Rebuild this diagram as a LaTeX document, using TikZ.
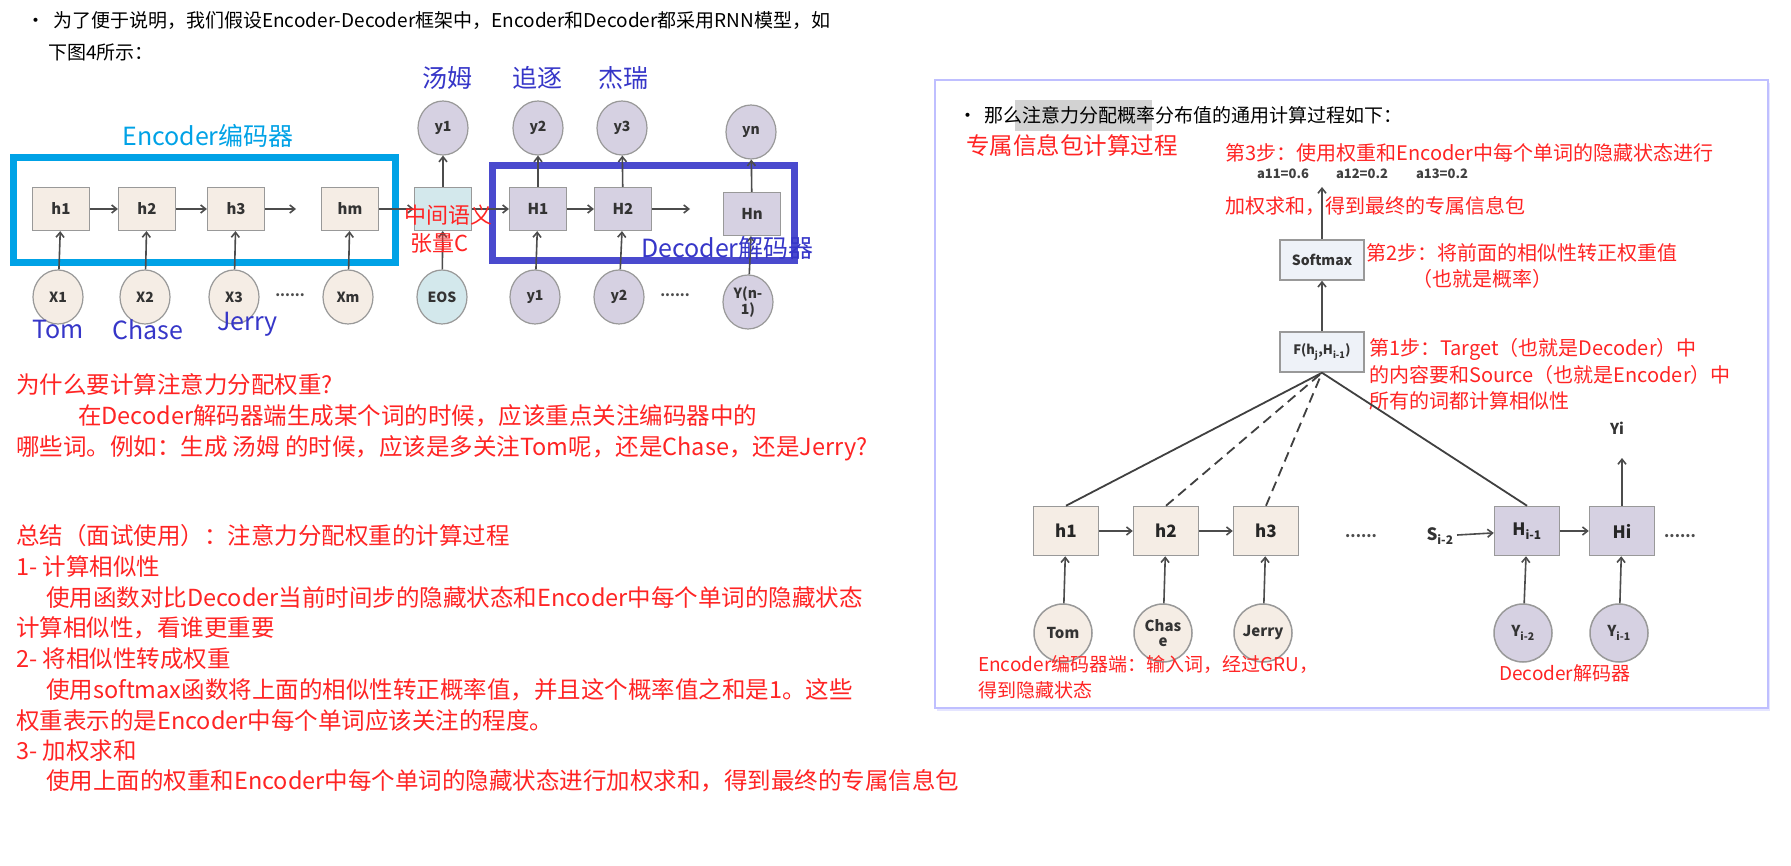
\documentclass[tikz,border=0pt]{standalone}
\usepackage{fontspec}
\setmainfont{Noto Sans CJK SC}
\usetikzlibrary{shapes.geometric,arrows.meta,shadows}
\definecolor{red1}{HTML}{FF2424}
\definecolor{blue1}{HTML}{3636C8}
\definecolor{cyan1}{HTML}{00A2E6}
\definecolor{encf}{HTML}{F5EDE5}
\definecolor{decf}{HTML}{D6D1E2}
\definecolor{cf}{HTML}{D3E8EC}
\definecolor{sf}{HTML}{EEF2F8}
\newcommand{\fs}[1]{\fontsize{#1}{#1}\selectfont}
\begin{document}
\begin{tikzpicture}[x=1pt,y=-1pt,
 txt/.style={anchor=west,inner sep=0pt},
 red/.style={txt,text=red1,font=\fs{23.5}},
 lbl/.style={text=blue1,font=\fs{25},inner sep=0pt},
 sq/.style={draw=gray!80,line width=1.2pt,minimum width=57pt,minimum height=43pt,inner sep=0pt,font=\fs{15}\bfseries,text=black!80},
 enc/.style={sq,fill=encf},
 dec/.style={sq,fill=decf},
 circ/.style={ellipse,draw=gray!80,line width=1.2pt,minimum width=50pt,minimum height=54pt,inner sep=0pt,font=\fs{14}\bfseries,text=black!80,align=center},
 sq2/.style={draw=gray!80,line width=1.5pt,minimum width=65pt,minimum height=49pt,inner sep=0pt,font=\fs{17}\bfseries,text=black!85},
 circ2/.style={ellipse,draw=gray!80,line width=1.5pt,minimum width=58pt,minimum height=58pt,inner sep=0pt,font=\fs{15}\bfseries,text=black!80,align=center},
 ar/.style={-{Straight Barb[length=5pt,width=8pt]},line width=1.6pt,draw=black!70},
 ln/.style={line width=1.8pt,draw=black!75}]
\useasboundingbox (0,0) rectangle (1791,866);
\fill[white] (0,0) rectangle (1791,866);
% top text
\node[txt,font=\fs{19}] (t1) at (26,21) {•\hspace{8pt}为了便于说明，我们假设Encoder-Decoder框架中，Encoder和Decoder都采用RNN模型，如};
\node[txt,font=\fs{19}] (t2) at (48,52) {下图4所示：};
% left diagram
\draw[cyan1,line width=7pt] (13.5,158) rectangle (395,263);
\draw[blue1!90,line width=7pt] (492,166) rectangle (794,261);
\node[enc] (h1) at (61,209) {h1};
\node[enc] (h2) at (147,209) {h2};
\node[enc] (h3) at (236,209) {h3};
\node[enc] (hm) at (350,209) {hm};
\node[sq,fill=cf] (C) at (443,209) {};
\node[dec] (H1) at (538,209) {H1};
\node[dec] (H2) at (623,209) {H2};
\node[dec] (Hn) at (752,214) {Hn};
\node[circ,fill=decf] (oy1) at (443,128) {y1};
\node[circ,fill=decf] (oy2) at (538,128) {y2};
\node[circ,fill=decf] (oy3) at (622,128) {y3};
\node[circ,fill=decf] (oyn) at (751,132) {yn};
\node[circ,fill=encf] (X1) at (58,297) {X1};
\node[circ,fill=encf] (X2) at (145,297) {X2};
\node[circ,fill=encf] (X3) at (234,297) {X3};
\node[circ,fill=encf] (Xm) at (348,297) {Xm};
\node[circ,fill=cf] (EOS) at (442,297) {EOS};
\node[circ,fill=decf] (iy1) at (535,297) {y1};
\node[circ,fill=decf] (iy2) at (619,297) {y2};
\node[circ,fill=decf] (iyn) at (748,302) {Y(n-\\1)};
\node[font=\fs{14}\bfseries,text=black!70] (d1) at (290,295) {......};
\node[font=\fs{14}\bfseries,text=black!70] (d2) at (675,295) {......};
\coordinate (e1) at (296,209);
\coordinate (e2) at (690,209);
\draw[ar] (h1)--(h2); \draw[ar] (h2)--(h3); \draw[ar] (h3)--(e1);
\draw[ar] (hm)--(C); \draw[ar] (C)--(H1); \draw[ar] (H1)--(H2); \draw[ar] (H2)--(e2);
\foreach \a/\b in {X1/h1,X2/h2,X3/h3,Xm/hm,EOS/C,iy1/H1,iy2/H2,iyn/Hn,C/oy1,H1/oy2,H2/oy3,Hn/oyn} \draw[ar] (\a)--(\b);
\node[lbl] (l1) at (447,78) {汤姆};
\node[lbl] (l2) at (537,78) {追逐};
\node[lbl] (l3) at (623,78) {杰瑞};
\node[inner sep=0pt,text=cyan1,font=\fs{25}] (enl) at (208,136) {Encoder编码器};
\node[txt,text=red1,font=\fs{22}] (mid1) at (404,215) {中间语义};
\node[txt,text=red1,font=\fs{22}] (mid2) at (410,243) {张量C};
\node[txt,text=blue1,font=\fs{25}] (decl) at (641,248) {Decoder解码器};
\node[txt,text=blue1,font=\fs{25}] (tom) at (32,330) {Tom};
\node[txt,text=blue1,font=\fs{25}] (chase) at (112,330) {Chase};
\node[txt,text=blue1,font=\fs{25}] (jerry) at (217,324) {Jerry};
% left red text
\node[red] (r1) at (16,385) {为什么要计算注意力分配权重?};
\node[red] (r2) at (78,416) {在Decoder解码器端生成某个词的时候，应该重点关注编码器中的};
\node[red] (r3) at (16,448) {哪些词。例如：生成 汤姆 的时候，应该是多关注Tom呢，还是Chase，还是Jerry?};
\node[red] (r4) at (16,536) {总结（面试使用）：注意力分配权重的计算过程};
\node[red] (r5) at (16,567) {1- 计算相似性};
\node[red] (r6) at (46,598) {使用函数对比Decoder当前时间步的隐藏状态和Encoder中每个单词的隐藏状态};
\node[red] (r7) at (16,628) {计算相似性，看谁更重要};
\node[red] (r8) at (16,659) {2- 将相似性转成权重};
\node[red] (r9) at (46,690) {使用softmax函数将上面的相似性转正概率值，并且这个概率值之和是1。这些};
\node[red] (r10) at (16,721) {权重表示的是Encoder中每个单词应该关注的程度。};
\node[red] (r11) at (16,751) {3- 加权求和};
\node[red] (r12) at (46,781) {使用上面的权重和Encoder中每个单词的隐藏状态进行加权求和，得到最终的专属信息包};
% right panel
\draw[draw=blue!25,line width=2pt,fill=white,drop shadow={opacity=0.25,shadow xshift=2pt,shadow yshift=-3pt,color=blue!40}] (935,80) rectangle (1768,708);
\fill[gray!35] (1015,100) rectangle (1152,131);
\node[txt,font=\fs{19}] (b2) at (958,115) {•\hspace{7pt}那么注意力分配概率分布值的通用计算过程如下：};
\node[txt,text=red1,font=\fs{23.5}] (zs) at (966,145) {专属信息包计算过程};
\node[txt,text=red1,font=\fs{20}] (s3) at (1225,153) {第3步：使用权重和Encoder中每个单词的隐藏状态进行};
\node[font=\fs{13}\bfseries,text=black!75] (a1) at (1283,174) {a11=0.6};
\node[font=\fs{13}\bfseries,text=black!75] (a2) at (1362,174) {a12=0.2};
\node[font=\fs{13}\bfseries,text=black!75] (a3) at (1442,174) {a13=0.2};
\node[txt,text=red1,font=\fs{20}] (s3b) at (1225,206) {加权求和，得到最终的专属信息包};
\node[draw=gray!80,line width=1.5pt,fill=sf,minimum width=84pt,minimum height=40pt,font=\fs{14}\bfseries,text=black!80] (sm) at (1322,260) {Softmax};
\node[draw=gray!80,line width=1.5pt,fill=sf,minimum width=84pt,minimum height=40pt,font=\fs{13}\bfseries,text=black!80,inner sep=0pt] (F) at (1322,352) {F(h\textsubscript{j},H\textsubscript{i-1})};
\coordinate (top) at (1322,187);
\draw[ar] (sm)--(top);
\draw[ar] (F)--(sm);
\node[txt,text=red1,font=\fs{20}] (s2) at (1366,253) {第2步：将前面的相似性转正权重值};
\node[txt,text=red1,font=\fs{20}] (s2b) at (1412,279) {（也就是概率）};
\node[txt,text=red1,font=\fs{20}] (s1) at (1369,349) {第1步：Target（也就是Decoder）中};
\node[txt,text=red1,font=\fs{20}] (s1b) at (1369,375) {的内容要和Source（也就是Encoder）中};
\node[txt,text=red1,font=\fs{20}] (s1c) at (1369,401) {所有的词都计算相似性};
\node[sq2,fill=encf] (rh1) at (1066,531) {h1};
\node[sq2,fill=encf] (rh2) at (1166,531) {h2};
\node[sq2,fill=encf] (rh3) at (1266,531) {h3};
\node[sq2,fill=decf] (rH1) at (1527,531) {H\textsubscript{i-1}};
\node[sq2,fill=decf] (rH) at (1622,531) {Hi};
\node[font=\fs{15}\bfseries,text=black!70] (rd1) at (1361,536) {......};
\node[font=\fs{17}\bfseries,text=black!80] (si) at (1440,536) {S\textsubscript{i-2}};
\node[font=\fs{15}\bfseries,text=black!70] (rd2) at (1680,536) {......};
\node[font=\fs{15}\bfseries,text=black!80] (yi) at (1617,428) {Yi};
\draw[ar] (rh1)--(rh2); \draw[ar] (rh2)--(rh3); \draw[ar] (si)--(rH1); \draw[ar] (rH1)--(rH);
\draw[ar] (rH)--(1622,458);
\node[circ2,fill=encf] (tom2) at (1063,633) {Tom};
\node[circ2,fill=encf] (ch2) at (1163,633) {Chas\\e};
\node[circ2,fill=encf] (je2) at (1263,633) {Jerry};
\node[circ2,fill=decf] (y2a) at (1523,633) {Y\textsubscript{i-2}};
\node[circ2,fill=decf] (y2b) at (1619,633) {Y\textsubscript{i-1}};
\draw[ar] (tom2)--(rh1); \draw[ar] (ch2)--(rh2); \draw[ar] (je2)--(rh3); \draw[ar] (y2a)--(rH1); \draw[ar] (y2b)--(rH);
\draw[ln] (rh1.north) -- (F.south);
\draw[ln,dash pattern=on 10pt off 6pt] (rh2.north) -- (F.south);
\draw[ln,dash pattern=on 10pt off 6pt] (rh3.north) -- (F.south);
\draw[ln] (rH1.north) -- (F.south);
\node[txt,text=red1,font=\fs{19}] (eb) at (978,664) {Encoder编码器端：输入词，经过GRU，};
\node[txt,text=red1,font=\fs{19}] (eb2) at (978,690) {得到隐藏状态};
\node[txt,text=red1,font=\fs{19}] (db) at (1499,673) {Decoder解码器};
\end{tikzpicture}
\end{document}
